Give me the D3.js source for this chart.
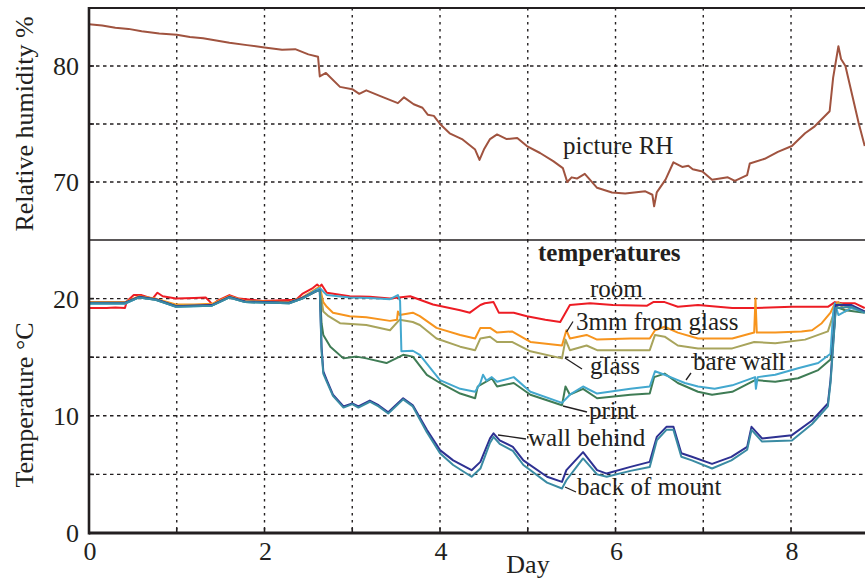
<!DOCTYPE html>
<html><head><meta charset="utf-8">
<script src="https://cdn.jsdelivr.net/npm/d3@7"></script>
<style>body{margin:0;background:#fff}svg{display:block}text{font-family:"Liberation Serif","Times New Roman",serif;fill:#231f20}</style>
</head><body><svg id="c" width="865" height="579"></svg>
<script>
const dayTicks = [0, 2, 4, 6, 8];
const dayGrid = [1, 2, 3, 4, 5, 6, 7, 8];
const rhTicks = [70, 80];
const rhGrid = [70, 75, 80];
const tTicks = [0, 10, 20];
const tGrid = [5, 10, 15, 20];

const rh = [[0,83.6],[0.15,83.5],[0.3,83.3],[0.45,83.2],[0.6,83.0],[0.8,82.8],[1.0,82.7],[1.15,82.5],[1.3,82.4],[1.45,82.2],[1.6,82.0],[1.8,81.8],[2.0,81.6],[2.2,81.4],[2.35,81.45],[2.5,81.0],[2.61,80.8],[2.63,79.1],[2.7,79.4],[2.86,78.2],[3.0,78.0],[3.08,77.6],[3.16,77.9],[3.32,77.4],[3.52,76.8],[3.59,77.3],[3.7,76.7],[3.8,76.4],[3.86,75.8],[3.93,75.7],[4.0,75.0],[4.11,74.2],[4.25,73.7],[4.4,72.8],[4.45,71.9],[4.5,72.8],[4.57,73.7],[4.65,74.1],[4.76,73.7],[4.88,73.8],[4.99,73.1],[5.14,72.5],[5.29,71.8],[5.4,71.2],[5.45,70.0],[5.5,70.4],[5.56,70.3],[5.65,70.7],[5.79,69.5],[5.96,69.1],[6.11,69.0],[6.34,69.2],[6.42,68.9],[6.44,67.9],[6.47,69.1],[6.57,70.2],[6.66,71.7],[6.76,71.3],[6.83,71.4],[6.88,71.1],[6.99,70.9],[7.1,70.2],[7.28,70.4],[7.36,70.1],[7.5,70.6],[7.53,71.6],[7.7,72.0],[7.85,72.6],[8.01,73.1],[8.16,74.2],[8.27,74.8],[8.44,76.1],[8.48,79.0],[8.54,81.7],[8.57,80.6],[8.62,80.0],[8.7,77.4],[8.77,75.1],[8.84,73.1]];

const room = [[0,19.2],[0.2,19.2],[0.3,19.25],[0.41,19.2],[0.43,19.75],[0.51,20.3],[0.6,20.3],[0.68,20.1],[0.72,19.95],[0.78,20.5],[0.84,20.2],[0.99,20.0],[1.2,20.05],[1.33,20.1],[1.37,19.8],[1.41,19.45],[1.46,19.8],[1.6,20.3],[1.71,20.0],[1.98,19.8],[2.2,19.85],[2.36,19.9],[2.43,20.4],[2.55,20.9],[2.6,21.2],[2.63,21.0],[2.65,21.2],[2.71,20.5],[2.97,20.2],[3.2,20.15],[3.43,20.0],[3.66,20.2],[3.92,19.5],[4.23,19.0],[4.34,18.8],[4.46,19.45],[4.51,19.6],[4.61,19.7],[4.67,18.8],[4.84,18.8],[4.99,18.5],[5.2,18.2],[5.37,18.0],[5.48,19.45],[5.71,19.6],[5.97,19.45],[6.36,19.4],[6.43,19.7],[6.56,19.7],[6.71,19.3],[6.94,19.45],[7.33,19.2],[7.59,19.2],[8.01,19.3],[8.42,19.3],[8.5,19.7],[8.58,19.6],[8.73,19.6],[8.84,19.2]];

const mm3 = [[0,19.7],[0.41,19.7],[0.57,20.2],[0.76,20.0],[0.99,19.5],[1.2,19.5],[1.4,19.55],[1.6,20.2],[1.78,19.8],[2.28,19.7],[2.43,20.1],[2.58,20.8],[2.63,21.0],[2.67,19.7],[2.71,19.3],[2.78,18.8],[2.97,18.5],[3.16,18.4],[3.43,18.1],[3.51,18.2],[3.52,18.9],[3.54,18.6],[3.69,18.8],[3.77,18.5],[3.96,17.5],[4.23,16.9],[4.40,16.6],[4.46,17.5],[4.57,17.5],[4.65,17.1],[4.82,17.2],[5.03,16.3],[5.39,16.0],[5.44,17.3],[5.48,16.6],[5.67,16.9],[5.79,16.5],[6.17,16.6],[6.39,16.6],[6.45,17.3],[6.56,17.6],[6.71,17.1],[6.94,16.6],[7.33,16.6],[7.58,17.1],[7.595,20.0],[7.61,17.1],[7.82,17.1],[8.12,17.2],[8.24,17.3],[8.35,17.9],[8.45,18.8],[8.49,19.45],[8.54,19.7],[8.62,18.9],[8.69,19.3],[8.84,18.9]];

const glass = [[0,19.6],[0.41,19.6],[0.57,20.15],[0.76,19.95],[0.99,19.4],[1.4,19.45],[1.6,20.15],[1.78,19.75],[2.28,19.65],[2.43,20.05],[2.58,20.7],[2.63,20.9],[2.67,18.9],[2.73,18.5],[2.86,17.9],[3.16,17.75],[3.43,17.3],[3.54,18.2],[3.69,18.0],[3.77,17.75],[3.96,16.6],[4.23,15.9],[4.40,15.6],[4.46,16.6],[4.57,16.75],[4.65,16.3],[4.82,16.3],[5.03,15.5],[5.39,14.9],[5.43,16.5],[5.48,15.6],[5.67,16.0],[5.79,15.6],[6.17,15.6],[6.39,15.6],[6.45,16.9],[6.56,16.75],[6.71,16.0],[6.94,15.75],[7.33,15.75],[7.58,16.3],[7.82,16.2],[8.16,16.5],[8.42,17.2],[8.49,18.8],[8.54,19.6],[8.69,19.2],[8.84,18.9]];

const print = [[0,19.6],[0.41,19.6],[0.57,20.1],[0.76,19.9],[0.99,19.35],[1.4,19.4],[1.6,20.1],[1.78,19.7],[2.28,19.6],[2.43,20.0],[2.58,20.6],[2.63,20.8],[2.65,17.9],[2.67,16.9],[2.75,15.9],[2.90,14.9],[3.05,15.05],[3.16,14.9],[3.39,14.5],[3.58,15.2],[3.69,15.05],[3.85,13.5],[4.0,12.8],[4.23,11.9],[4.40,11.5],[4.43,12.5],[4.59,13.2],[4.65,12.5],[4.84,12.8],[5.03,11.8],[5.39,10.9],[5.43,12.5],[5.48,11.8],[5.63,12.3],[5.79,11.5],[6.17,11.8],[6.39,11.9],[6.44,13.3],[6.56,13.6],[6.71,12.8],[6.94,12.05],[7.1,11.8],[7.33,12.05],[7.59,13.05],[7.82,12.9],[8.08,13.2],[8.31,13.9],[8.45,14.8],[8.49,17.3],[8.51,19.3],[8.62,19.0],[8.84,18.8]];

const bareWall = [[0,19.55],[0.41,19.55],[0.57,20.1],[0.76,19.9],[0.99,19.3],[1.4,19.4],[1.6,20.1],[1.78,19.7],[2.28,19.6],[2.43,20.0],[2.58,20.7],[2.63,20.9],[2.71,20.3],[2.97,20.1],[3.2,20.05],[3.43,19.95],[3.52,20.3],[3.545,19.8],[3.56,15.5],[3.69,15.55],[3.77,15.2],[3.92,13.8],[4.0,13.05],[4.23,12.3],[4.40,12.05],[4.46,12.8],[4.49,13.5],[4.53,13.0],[4.59,13.3],[4.65,12.9],[4.84,13.3],[5.03,12.05],[5.39,11.1],[5.48,11.8],[5.63,12.5],[5.79,11.9],[6.17,12.3],[6.39,12.5],[6.45,13.8],[6.56,13.5],[6.71,13.05],[6.79,12.8],[6.94,12.5],[7.13,12.3],[7.33,12.6],[7.59,13.3],[7.6,12.3],[7.62,13.3],[7.82,13.5],[8.08,14.05],[8.31,14.5],[8.45,15.3],[8.48,18.75],[8.5,19.6],[8.54,18.6],[8.69,19.2],[8.84,18.8]];

const wallBehind = [[0,19.65],[0.41,19.65],[0.57,20.15],[0.76,19.95],[0.99,19.35],[1.4,19.45],[1.6,20.15],[1.78,19.75],[2.28,19.65],[2.43,20.05],[2.58,20.6],[2.63,20.7],[2.65,15.9],[2.67,13.8],[2.71,13.05],[2.78,11.8],[2.90,10.8],[3.0,11.05],[3.07,10.8],[3.2,11.3],[3.3,10.9],[3.41,10.3],[3.58,11.5],[3.69,10.9],[3.85,8.8],[4.0,7.07],[4.15,6.2],[4.36,5.36],[4.46,6.07],[4.57,8.07],[4.61,8.5],[4.68,7.9],[4.83,7.35],[4.95,6.2],[5.22,4.8],[5.39,4.36],[5.44,5.36],[5.63,6.9],[5.79,5.36],[5.9,5.07],[6.17,5.64],[6.39,6.07],[6.47,8.2],[6.58,9.06],[6.66,9.06],[6.75,6.8],[6.87,6.5],[7.1,5.9],[7.32,6.5],[7.5,7.35],[7.55,9.06],[7.67,8.07],[8.01,8.35],[8.24,9.6],[8.42,11.05],[8.45,13.05],[8.49,17.3],[8.51,19.45],[8.69,19.45],[8.84,18.9]];

const backMount = [[0,19.6],[0.41,19.6],[0.57,20.1],[0.76,19.9],[0.99,19.3],[1.4,19.4],[1.6,20.1],[1.78,19.7],[2.28,19.6],[2.43,20.0],[2.58,20.6],[2.63,20.7],[2.65,15.5],[2.67,13.6],[2.71,12.9],[2.78,11.7],[2.90,10.7],[3.0,11.0],[3.07,10.7],[3.2,11.2],[3.3,10.8],[3.41,10.2],[3.58,11.4],[3.69,10.8],[3.85,8.6],[4.0,6.8],[4.15,5.8],[4.36,4.8],[4.46,5.5],[4.57,7.7],[4.61,8.2],[4.68,7.6],[4.83,7.0],[4.95,5.8],[5.22,4.3],[5.39,3.8],[5.44,4.5],[5.63,6.36],[5.79,5.0],[5.9,4.8],[6.17,5.3],[6.39,5.64],[6.47,7.9],[6.58,8.8],[6.66,8.8],[6.75,6.5],[6.87,6.2],[7.1,5.5],[7.32,6.2],[7.5,7.1],[7.55,8.8],[7.67,7.8],[8.01,7.9],[8.24,9.3],[8.42,10.8],[8.45,12.8],[8.49,17.0],[8.51,19.2],[8.69,19.3],[8.84,18.8]];

const tempSeries = [
  {name:"room", data:room, color:"#ed1c24"},
  {name:"3mm from glass", data:mm3, color:"#f7941d"},
  {name:"glass", data:glass, color:"#a8a45c"},
  {name:"print", data:print, color:"#3f7c55"},
  {name:"bare wall", data:bareWall, color:"#43a8cf"},
  {name:"wall behind", data:wallBehind, color:"#2e3192"},
  {name:"back of mount", data:backMount, color:"#3a8ba3"}
];

const L = 89, R = 865;
const topY0 = 8, midY = 240, botY = 533;
const svg = d3.select("#c");
const x = d3.scaleLinear().domain([0, 8.843]).range([L, R]);
const yRH = d3.scaleLinear().domain([65, 85]).range([midY, topY0]);
const yT = d3.scaleLinear().domain([0, 25]).range([botY, midY]);

const defs = svg.append("defs");
defs.append("clipPath").attr("id","clipTop").append("rect").attr("x",L).attr("y",topY0).attr("width",R-L).attr("height",midY-topY0);
defs.append("clipPath").attr("id","clipBot").append("rect").attr("x",L).attr("y",midY).attr("width",R-L).attr("height",botY-midY);

const grid = svg.append("g").attr("stroke","#231f20").attr("stroke-width",1.4).attr("fill","none");
[[topY0, midY],[midY, botY]].forEach(([a,b]) => {
  grid.selectAll(null).data(dayGrid).enter().append("line")
    .attr("x1", d=>x(d)).attr("x2", d=>x(d)).attr("y1", a).attr("y2", b)
    .attr("stroke-dasharray","2.5,4.5");
});
grid.selectAll(null).data(rhGrid).enter().append("line")
  .attr("x1", L).attr("x2", R).attr("y1", d=>yRH(d)).attr("y2", d=>yRH(d)).attr("stroke-dasharray","3.5,3.5");
grid.selectAll(null).data(tGrid).enter().append("line")
  .attr("x1", L).attr("x2", R).attr("y1", d=>yT(d)).attr("y2", d=>yT(d)).attr("stroke-dasharray","3.5,3.5");

const lineRH = d3.line().x(d=>x(d[0])).y(d=>yRH(d[1]));
const lineT = d3.line().x(d=>x(d[0])).y(d=>yT(d[1]));
svg.append("path").attr("clip-path","url(#clipTop)").attr("d", lineRH(rh)).attr("fill","none").attr("stroke","#a0533f").attr("stroke-width",2).attr("stroke-linejoin","round");
const tg = svg.append("g").attr("clip-path","url(#clipBot)");
tempSeries.forEach(s => {
  tg.append("path").attr("d", lineT(s.data)).attr("fill","none").attr("stroke", s.color).attr("stroke-width",2).attr("stroke-linejoin","round");
});

const fr = svg.append("g").attr("stroke","#231f20").attr("fill","none");
fr.append("line").attr("x1",L).attr("x2",R).attr("y1",topY0).attr("y2",topY0).attr("stroke-width",2);
fr.append("line").attr("x1",L).attr("x2",R).attr("y1",midY).attr("y2",midY).attr("stroke-width",1.6);
fr.append("line").attr("x1",L).attr("x2",R).attr("y1",botY).attr("y2",botY).attr("stroke-width",3);
fr.append("line").attr("x1",L).attr("x2",L).attr("y1",topY0-1).attr("y2",botY+1.5).attr("stroke-width",2.6);
fr.selectAll(null).data(rhGrid).enter().append("line").attr("x1",L).attr("x2",L+5).attr("y1",d=>yRH(d)).attr("y2",d=>yRH(d)).attr("stroke-width",1.6);
fr.selectAll(null).data(tGrid).enter().append("line").attr("x1",L).attr("x2",L+5).attr("y1",d=>yT(d)).attr("y2",d=>yT(d)).attr("stroke-width",1.6);
fr.selectAll(null).data(dayGrid).enter().append("line").attr("x1",d=>x(d)).attr("x2",d=>x(d)).attr("y1",botY).attr("y2",botY-5).attr("stroke-width",1.6);

const fs = 26, lfs = 25;
svg.selectAll(null).data(rhTicks).enter().append("text").attr("x",79).attr("y",d=>yRH(d)).attr("dy","0.35em").attr("text-anchor","end").attr("font-size",fs).text(d=>d);
svg.selectAll(null).data(tTicks).enter().append("text").attr("x",79).attr("y",d=>yT(d)).attr("dy","0.35em").attr("text-anchor","end").attr("font-size",fs).text(d=>d);
svg.selectAll(null).data(dayTicks).enter().append("text").attr("x",d=>x(d)+1).attr("y",560).attr("text-anchor","middle").attr("font-size",fs).text(d=>d);
svg.append("text").attr("x",528).attr("y",573).attr("text-anchor","middle").attr("font-size",fs).text("Day");
svg.append("text").attr("transform","translate(33,124) rotate(-90)").attr("text-anchor","middle").attr("font-size",fs).text("Relative humidity %");
svg.append("text").attr("transform","translate(33,405) rotate(-90)").attr("text-anchor","middle").attr("font-size",fs).text("Temperature °C");

svg.append("text").attr("x",563).attr("y",154).attr("font-size",lfs).text("picture RH");
svg.append("text").attr("x",538).attr("y",261).attr("font-size",lfs).attr("font-weight","bold").text("temperatures");
const labels = [
  {t:"room", x:590, y:297},
  {t:"3mm from glass", x:576, y:330},
  {t:"glass", x:590, y:374},
  {t:"bare wall", x:693, y:370},
  {t:"print", x:589, y:419},
  {t:"wall behind", x:528, y:446},
  {t:"back of mount", x:577, y:495}
];
svg.selectAll(null).data(labels).enter().append("text").attr("x",d=>d.x).attr("y",d=>d.y).attr("font-size",lfs).text(d=>d.t);
const leaders = [
  [573,321.5,566.5,332],
  [565,358,582,369],
  [686,380,691,373],
  [563,406,587,412],
  [498,435,526,439],
  [565,487,576,492]
];
svg.selectAll(null).data(leaders).enter().append("line")
  .attr("x1",d=>d[0]).attr("y1",d=>d[1]).attr("x2",d=>d[2]).attr("y2",d=>d[3])
  .attr("stroke","#231f20").attr("stroke-width",1.3);
</script></body></html>
